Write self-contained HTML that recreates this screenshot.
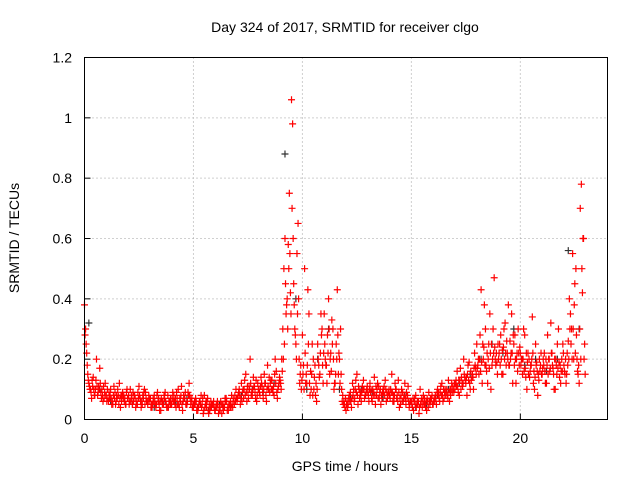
<!DOCTYPE html>
<html><head><meta charset="utf-8"><style>
body{margin:0;background:#fff;}
svg{display:block;font-family:"Liberation Sans",sans-serif;}
</style></head><body>
<svg id="chart" width="640" height="480">
<text x="345" y="32" font-size="14" text-anchor="middle">Day 324 of 2017, SRMTID for receiver clgo</text>
<text x="345" y="471" font-size="14" text-anchor="middle">GPS time / hours</text>
<text x="19" y="238" font-size="14" text-anchor="middle" transform="rotate(-90 19 238)">SRMTID / TECUs</text>
<g id="grid"></g>
<g id="ticks"></g>
<g id="pts"></g>
<rect x="84.5" y="57.5" width="523" height="362" fill="none" stroke="#000"/>
</svg>
<script>
const xTicks=[0,5,10,15,20];
const yTicks=[0,0.2,0.4,0.6,0.8,1,1.2];
const yTickLabels=["0","0.2","0.4","0.6","0.8","1","1.2"];
const stepA=0.1;
const valsA=[.38,.22,.12,.09,.14,.1,.08,.17,.1,.07,
.08,.06,.1,.05,.09,.07,.12,.06,.08,.05,
.07,.1,.05,.08,.06,.11,.04,.07,.09,.05,
.06,.04,.08,.05,.07,.03,.06,.09,.04,.06,
.05,.08,.04,.1,.06,.03,.07,.05,.12,.06,
.04,.07,.03,.06,.05,.08,.04,.02,.06,.05,
.03,.06,.04,.02,.05,.07,.03,.06,.04,.08,
.06,.1,.12,.07,.15,.09,.2,.08,.11,.06,
.1,.14,.07,.12,.18,.09,.13,.08,.16,.11,
.12,.3,.6,.4,.75,1.06,.45,.25,.65,.15,
.28,.5,.12,.35,.1,.2,.08,.25,.15,.3,
.35,.18,.4,.22,.3,.12,.43,.2,.1,.06,
.03,.05,.09,.12,.07,.15,.1,.06,.13,.08,
.09,.12,.06,.14,.08,.11,.05,.1,.13,.07,
.08,.15,.06,.1,.13,.05,.09,.12,.07,.04,
.06,.03,.08,.05,.1,.04,.07,.03,.09,.06,
.05,.08,.1,.06,.12,.07,.09,.13,.08,.11,
.1,.16,.08,.14,.2,.12,.18,.1,.15,.22,
.25,.15,.43,.2,.3,.12,.35,.18,.47,.22,
.2,.28,.15,.32,.22,.18,.35,.25,.12,.3,
.22,.15,.28,.1,.2,.18,.12,.25,.08,.16,
.15,.22,.12,.2,.32,.17,.1,.25,.14,.2,
.18,.12,.26,.35,.55,.45,.2,.12,.78,.6];
const valsB=[.3,.15,.1,.13,.08,.2,.11,.09,.06,.12,
.1,.07,.05,.11,.06,.08,.04,.09,.07,.1,
.05,.08,.06,.04,.09,.07,.05,.1,.06,.08,
.04,.07,.05,.09,.03,.06,.08,.05,.04,.07,
.09,.05,.07,.04,.11,.08,.05,.09,.07,.04,
.06,.03,.05,.08,.02,.05,.07,.03,.05,.04,
.05,.02,.06,.04,.07,.03,.05,.08,.06,.1,
.08,.05,.09,.13,.06,.11,.08,.14,.07,.12,
.08,.11,.15,.06,.1,.13,.09,.2,.07,.14,
.2,.5,.35,.58,.42,.98,.3,.55,.2,.1,
.18,.12,.43,.08,.25,.14,.06,.18,.35,.12,
.2,.28,.15,.33,.1,.25,.15,.3,.08,.04,
.06,.08,.04,.1,.13,.05,.09,.11,.07,.1,
.06,.1,.08,.05,.12,.09,.07,.11,.06,.09,
.1,.06,.12,.08,.04,.1,.07,.05,.11,.06,
.04,.07,.05,.02,.06,.08,.04,.06,.05,.08,
.07,.05,.09,.11,.06,.1,.08,.06,.12,.09,
.13,.09,.17,.11,.14,.08,.19,.13,.1,.17,
.18,.28,.12,.38,.16,.25,.1,.3,.2,.15,
.25,.15,.3,.18,.38,.2,.12,.28,.22,.18,
.2,.3,.14,.22,.16,.34,.1,.19,.13,.22,
.2,.12,.28,.16,.22,.1,.18,.3,.12,.25,
.15,.22,.4,.3,.2,.5,.15,.7,.42,.25];
const valsC=[.28,.18,.11,.07,.1,.13,.09,.12,.08,.09,
.06,.09,.07,.08,.05,.1,.07,.08,.06,.09,
.08,.06,.09,.07,.05,.08,.06,.09,.07,.06,
.07,.05,.06,.08,.05,.07,.05,.06,.08,.05,
.07,.06,.09,.05,.08,.06,.09,.06,.08,.07,
.05,.06,.04,.05,.07,.04,.06,.05,.04,.06,
.04,.05,.03,.05,.04,.06,.05,.04,.07,.06,
.07,.08,.06,.1,.09,.07,.12,.1,.09,.08,
.09,.12,.1,.08,.11,.12,.1,.15,.09,.12,
.1,.2,.45,.3,.55,.7,.38,.2,.4,.18,
.15,.22,.18,.12,.15,.1,.12,.2,.22,.18,
.25,.12,.3,.16,.2,.15,.28,.12,.06,.05,
.05,.07,.06,.08,.1,.08,.07,.09,.1,.09,
.08,.09,.1,.08,.1,.07,.08,.09,.1,.08,
.07,.09,.08,.07,.09,.08,.06,.07,.08,.05,
.05,.06,.04,.06,.05,.06,.05,.07,.06,.07,
.06,.07,.08,.09,.08,.09,.1,.09,.1,.1,
.12,.11,.13,.12,.15,.14,.13,.16,.14,.18,
.17,.2,.19,.24,.18,.2,.22,.2,.24,.19,
.22,.2,.24,.22,.2,.26,.22,.18,.2,.22,
.18,.2,.17,.19,.14,.2,.16,.18,.15,.18,
.17,.16,.18,.2,.22,.15,.2,.17,.18,.16,
.16,.15,.2,.25,.3,.22,.16,.3,.5,.2];
const valsD=[.25,.13,.1,.11,.08,.11,.1,.07,.11,.08,
.07,.08,.06,.07,.08,.05,.08,.07,.05,.07,
.06,.07,.08,.05,.07,.06,.08,.05,.06,.07,
.05,.06,.04,.06,.06,.05,.07,.04,.06,.05,
.06,.07,.05,.07,.05,.07,.05,.08,.05,.05,
.05,.04,.06,.04,.03,.06,.03,.04,.05,.03,
.04,.03,.05,.03,.06,.04,.04,.05,.05,.07,
.09,.07,.1,.08,.11,.1,.09,.11,.13,.1,
.11,.09,.12,.1,.14,.1,.11,.12,.1,.13,
.16,.25,.38,.5,.35,.6,.28,.35,.12,.13,
.1,.15,.25,.16,.08,.18,.1,.14,.28,.22,
.18,.22,.2,.25,.12,.2,.22,.15,.05,.07,
.04,.06,.07,.06,.09,.11,.08,.1,.08,.11,
.1,.07,.09,.11,.07,.1,.09,.08,.09,.1,
.09,.08,.1,.06,.07,.06,.08,.09,.06,.06,
.07,.05,.06,.04,.07,.05,.06,.04,.07,.05,
.06,.09,.07,.08,.1,.08,.07,.1,.09,.12,
.11,.13,.1,.12,.13,.15,.12,.14,.17,.15,
.2,.16,.25,.18,.22,.17,.25,.22,.18,.25,
.18,.23,.2,.26,.18,.22,.28,.2,.16,.24,
.2,.16,.22,.15,.18,.22,.14,.16,.2,.15,
.18,.2,.15,.17,.18,.2,.15,.19,.16,.22,
.2,.18,.3,.2,.38,.28,.18,.2,.6,.15];
const stepK=0.5;
const valsK=[.32,.1,.06,.08,.05,.07,.04,.06,.05,.07,.04,.03,.05,.04,.08,.1,.09,.12,.88,.4,.1,.2,.3,.1,.08,.1,.09,.07,.06,.08,.04,.05,.08,.1,.12,.15,.2,.25,.22,.3,.18,.2,.16,.2,.56,.3];
const X=t=>84.5+t*(523/24), Y=v=>419.5-v*(362/1.2);
const NS="http://www.w3.org/2000/svg";
const grid=document.getElementById('grid'),ticks=document.getElementById('ticks'),pts=document.getElementById('pts');
function mk(tag,at,p){const e=document.createElementNS(NS,tag);for(const k in at)e.setAttribute(k,at[k]);p.appendChild(e);return e;}
xTicks.forEach(t=>{const x=X(t);
 if(t>0){const g=mk('line',{x1:x,x2:x,y1:57.5,y2:419.5,stroke:'#a0a0a0','stroke-dasharray':'1,3'},grid);}
 mk('line',{x1:x,x2:x,y1:419.5,y2:413.5,stroke:'#000'},ticks);
 const l=mk('text',{x:x,y:443,'font-size':14,'text-anchor':'middle'},ticks);l.textContent=t;
 });
yTicks.forEach((v,i)=>{const y=Y(v);
 if(v>0&&v<1.2){const g=mk('line',{x1:84.5,x2:607.5,y1:y,y2:y,stroke:'#a0a0a0','stroke-dasharray':'1,3'},grid);}
 mk('line',{x1:84.5,x2:90.5,y1:y,y2:y,stroke:'#000'},ticks);
 const l=mk('text',{x:72,y:y+5,'font-size':14,'text-anchor':'end'},ticks);l.textContent=yTickLabels[i];
 });
function plus(t,v,c){const x=X(t),y=Y(v);
 const p=mk('path',{d:`M${x-3.5},${y}h7M${x},${y-3.5}v7`,stroke:c,'stroke-width':1.2,fill:'none'},pts);
 }
valsK.forEach((v,i)=>plus(i*stepK+0.2,v,'#333'));
valsA.forEach((v,i)=>plus(i*stepA,v,'#f00'));
valsB.forEach((v,i)=>plus(i*stepA+0.05,v,'#f00'));
valsC.forEach((v,i)=>plus(i*stepA+0.025,v,'#f00'));
valsD.forEach((v,i)=>plus(i*stepA+0.075,v,'#f00'));
</script>
</body></html>
